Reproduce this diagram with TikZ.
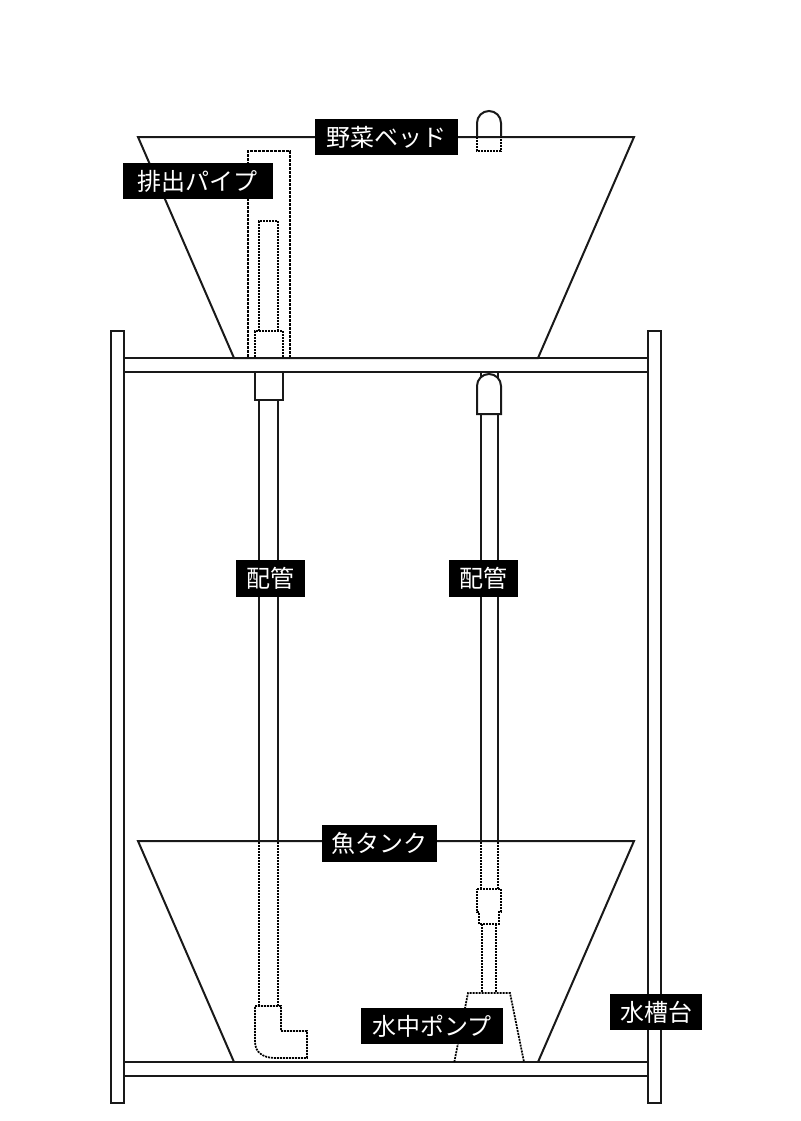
\documentclass[tikz,border=0pt]{standalone}
\usepackage{fontspec}
\setmainfont{Noto Sans CJK JP}
\tikzset{
  ln/.style={draw=black!90,line width=1.5pt,line join=miter},
  dashline/.style={draw=black,line width=1.5pt,dash pattern=on 2.25pt off .75pt},
  dotline/.style={draw=black,line width=1.3pt,dash pattern=on 1.5pt off .75pt},
  lbl/.style={fill=black,text=white,inner sep=0pt,font=\fontsize{18}{20}\selectfont,anchor=center},
}
\begin{document}
\begin{tikzpicture}[x=0.75pt,y=-0.75pt]
\useasboundingbox (0,0) rectangle (800,1121);
% frame
\draw[ln] (111,331) rectangle (124,1103);
\draw[ln] (648,331) rectangle (661,1103);
\draw[ln] (124,358) -- (648,358);
\draw[ln] (124,372) -- (648,372);
\draw[ln] (124,1062) -- (648,1062);
\draw[ln] (124,1076) -- (648,1076);
% upper bed
\draw[ln] (234,358) -- (138,137) -- (634,137) -- (538,358) -- cycle;
% drain pipe in the bed
\draw[dashline] (248,357) -- (248,151) -- (290,151) -- (290,357);
\draw[dotline] (259,331) -- (259,221) -- (278,221) -- (278,331);
\draw[dotline] (255,357) -- (255,331) -- (283,331) -- (283,357);
% outlet cap on the bed
\draw[ln] (477,137) -- (477,123) arc (180:360:12) -- (501,137);
\draw[dotline] (477,137) -- (477,151) -- (501,151) -- (501,137);
% below the shelf, left
\draw[ln] (255,372) -- (255,400) -- (283,400) -- (283,372);
\draw[ln] (259,400) -- (259,841);
\draw[ln] (278,400) -- (278,841);
% below the shelf, right
\draw[ln] (481,372) -- (481,378);
\draw[ln] (498,372) -- (498,378);
\draw[ln] (477,414) -- (477,386) arc (180:360:12) -- (501,414) -- cycle;
\draw[ln] (481,414) -- (481,841);
\draw[ln] (498,414) -- (498,841);
% fish tank
\draw[ln] (234,1062) -- (138,841) -- (634,841) -- (538,1062);
% hidden pipes in the tank
\draw[dotline] (259,842) -- (259,1006);
\draw[dotline] (278,842) -- (278,1006);
\draw[dotline] (255,1006) -- (281,1006) -- (281,1031) -- (307,1031) -- (307,1058) -- (275,1058) .. controls (263,1058) and (255,1052) .. (255,1042) -- cycle;
\draw[dotline] (481,842) -- (481,889);
\draw[dotline] (498,842) -- (498,889);
\draw[dotline] (477,889) -- (501,889) -- (501,912) -- (499,912) -- (499,924) -- (479,924) -- (479,912) -- (477,912) -- cycle;
\draw[dotline] (482,924) -- (482,993);
\draw[dotline] (496,924) -- (496,993);
\draw[dotline] (454.3,1062) -- (468,993) -- (510,993) -- (524,1062);
% labels
\node[lbl,minimum width=107.25pt,minimum height=27pt] (bed) at (386.5,137) {野菜ベッド};
\node[lbl,minimum width=112.5pt,minimum height=27pt] (drain) at (197.7,181) {排出パイプ};
\node[lbl,minimum width=51.75pt,minimum height=27.75pt] (pipeL) at (270.3,578.5) {配管};
\node[lbl,minimum width=51.75pt,minimum height=27.75pt] (pipeR) at (483.7,578.5) {配管};
\node[lbl,minimum width=86.25pt,minimum height=27.75pt] (tank) at (379.5,843.5) {魚タンク};
\node[lbl,minimum width=106.5pt,minimum height=27pt] (pump) at (431.7,1026) {水中ポンプ};
\node[lbl,minimum width=69pt,minimum height=27pt] (stand) at (656,1012) {水槽台};
\end{tikzpicture}
\end{document}
